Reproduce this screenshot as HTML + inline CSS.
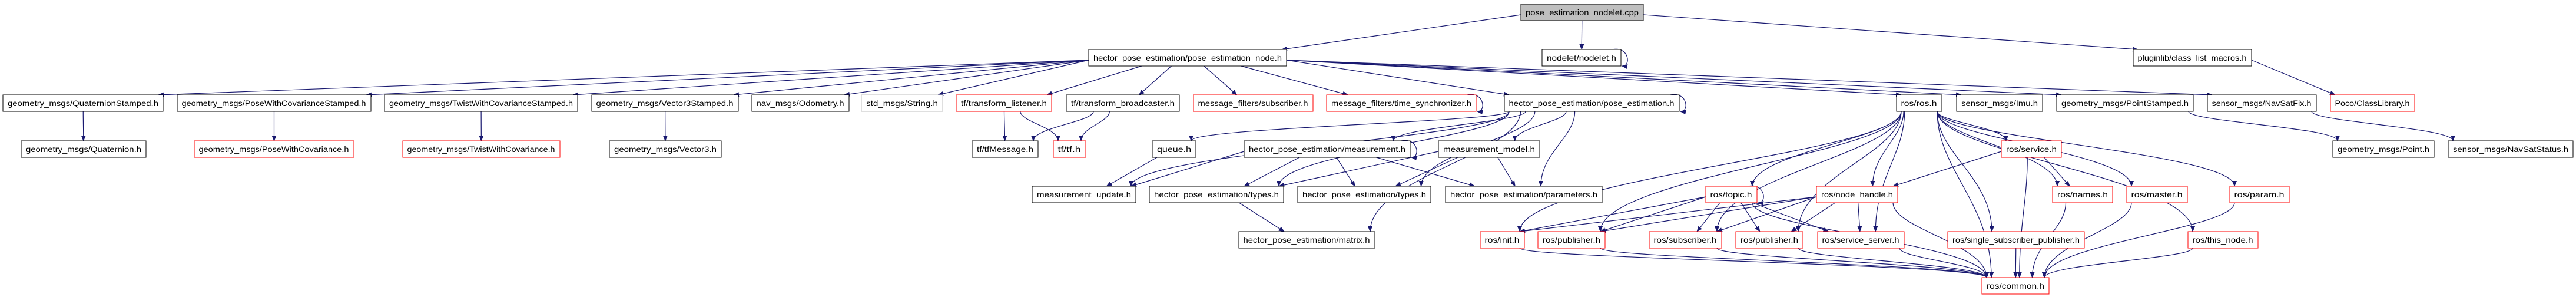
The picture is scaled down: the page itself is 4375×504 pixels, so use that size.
<!DOCTYPE html>
<html><head><meta charset="utf-8"><style>
html,body{margin:0;padding:0;background:#fff;width:4375px;height:504px;overflow:hidden}
svg text{font-family:"Liberation Sans",sans-serif;font-size:14px;fill:#000}
</style></head><body>
<svg id="g" xmlns="http://www.w3.org/2000/svg" width="4375" height="504" viewBox="0 0 4375 504">
<defs><marker id="a" markerWidth="10" markerHeight="8" refX="9" refY="4" orient="auto" markerUnits="userSpaceOnUse"><path d="M0,0 L10,4 L0,8 z" fill="#191970"/></marker></defs>
<g id="edges" fill="none" stroke="#191970" stroke-width="1.2"></g>
<g id="nodes">
<rect x="2583" y="7" width="208" height="28" fill="#bfbfbf" stroke="#000"/><text x="2687" y="26" text-anchor="middle">pose_estimation_nodelet.cpp</text>
<rect x="1849" y="84" width="336" height="28" fill="#fff" stroke="#000"/><text x="2017" y="103" text-anchor="middle">hector_pose_estimation/pose_estimation_node.h</text>
<rect x="2619" y="84" width="134" height="28" fill="#fff" stroke="#000"/><text x="2686" y="103" text-anchor="middle">nodelet/nodelet.h</text>
<rect x="3623" y="84" width="201" height="28" fill="#fff" stroke="#000"/><text x="3723" y="103" text-anchor="middle">pluginlib/class_list_macros.h</text>

<rect x="5" y="161" width="272" height="28" fill="#fff" stroke="#000"/><text x="141" y="180" text-anchor="middle">geometry_msgs/QuaternionStamped.h</text>
<rect x="301" y="161" width="329" height="28" fill="#fff" stroke="#000"/><text x="465" y="180" text-anchor="middle">geometry_msgs/PoseWithCovarianceStamped.h</text>
<rect x="653" y="161" width="328" height="28" fill="#fff" stroke="#000"/><text x="817" y="180" text-anchor="middle">geometry_msgs/TwistWithCovarianceStamped.h</text>
<rect x="1005" y="161" width="249" height="28" fill="#fff" stroke="#000"/><text x="1129" y="180" text-anchor="middle">geometry_msgs/Vector3Stamped.h</text>
<rect x="1277" y="161" width="165" height="28" fill="#fff" stroke="#000"/><text x="1359" y="180" text-anchor="middle">nav_msgs/Odometry.h</text>
<rect x="1463" y="161" width="138" height="28" fill="#fff" stroke="#bfbfbf"/><text x="1532" y="180" text-anchor="middle">std_msgs/String.h</text>
<rect x="1624" y="161" width="162" height="28" fill="#fff" stroke="#f00"/><text x="1705" y="180" text-anchor="middle">tf/transform_listener.h</text>
<rect x="1811" y="161" width="192" height="28" fill="#fff" stroke="#000"/><text x="1907" y="180" text-anchor="middle">tf/transform_broadcaster.h</text>
<rect x="2027" y="161" width="203" height="28" fill="#fff" stroke="#f00"/><text x="2128" y="180" text-anchor="middle">message_filters/subscriber.h</text>
<rect x="2253" y="161" width="254" height="28" fill="#fff" stroke="#f00"/><text x="2380" y="180" text-anchor="middle">message_filters/time_synchronizer.h</text>
<rect x="2555" y="161" width="297" height="28" fill="#fff" stroke="#000"/><text x="2703" y="180" text-anchor="middle">hector_pose_estimation/pose_estimation.h</text>
<rect x="3221" y="161" width="77" height="28" fill="#fff" stroke="#000"/><text x="3259" y="180" text-anchor="middle">ros/ros.h</text>
<rect x="3323" y="161" width="146" height="28" fill="#fff" stroke="#000"/><text x="3396" y="180" text-anchor="middle">sensor_msgs/Imu.h</text>
<rect x="3493" y="161" width="232" height="28" fill="#fff" stroke="#000"/><text x="3609" y="180" text-anchor="middle">geometry_msgs/PointStamped.h</text>
<rect x="3749" y="161" width="185" height="28" fill="#fff" stroke="#000"/><text x="3841" y="180" text-anchor="middle">sensor_msgs/NavSatFix.h</text>
<rect x="3958" y="161" width="143" height="28" fill="#fff" stroke="#f00"/><text x="4029" y="180" text-anchor="middle">Poco/ClassLibrary.h</text>

<rect x="36" y="239" width="212" height="28" fill="#fff" stroke="#000"/><text x="142" y="258" text-anchor="middle">geometry_msgs/Quaternion.h</text>
<rect x="330" y="239" width="271" height="28" fill="#fff" stroke="#f00"/><text x="465" y="258" text-anchor="middle">geometry_msgs/PoseWithCovariance.h</text>
<rect x="684" y="239" width="267" height="28" fill="#fff" stroke="#f00"/><text x="817" y="258" text-anchor="middle">geometry_msgs/TwistWithCovariance.h</text>
<rect x="1035" y="239" width="190" height="28" fill="#fff" stroke="#000"/><text x="1130" y="258" text-anchor="middle">geometry_msgs/Vector3.h</text>
<rect x="1651" y="239" width="112" height="28" fill="#fff" stroke="#000"/><text x="1707" y="258" text-anchor="middle">tf/tfMessage.h</text>
<rect x="1789" y="239" width="55" height="28" fill="#fff" stroke="#f00"/><text x="1816" y="258" text-anchor="middle">tf/tf.h</text>
<rect x="1957" y="239" width="74" height="28" fill="#fff" stroke="#000"/><text x="1994" y="258" text-anchor="middle">queue.h</text>
<rect x="2113" y="239" width="282" height="28" fill="#fff" stroke="#000"/><text x="2254" y="258" text-anchor="middle">hector_pose_estimation/measurement.h</text>
<rect x="2443" y="239" width="172" height="28" fill="#fff" stroke="#000"/><text x="2529" y="258" text-anchor="middle">measurement_model.h</text>
<rect x="3399" y="239" width="102" height="28" fill="#fff" stroke="#f00"/><text x="3450" y="258" text-anchor="middle">ros/service.h</text>
<rect x="3962" y="239" width="172" height="28" fill="#fff" stroke="#000"/><text x="4048" y="258" text-anchor="middle">geometry_msgs/Point.h</text>
<rect x="4158" y="239" width="212" height="28" fill="#fff" stroke="#000"/><text x="4264" y="258" text-anchor="middle">sensor_msgs/NavSatStatus.h</text>

<rect x="1753" y="316" width="176" height="28" fill="#fff" stroke="#000"/><text x="1841" y="335" text-anchor="middle">measurement_update.h</text>
<rect x="1952" y="316" width="228" height="28" fill="#fff" stroke="#000"/><text x="2066" y="335" text-anchor="middle">hector_pose_estimation/types.h</text>
<rect x="2204" y="316" width="226" height="28" fill="#fff" stroke="#000"/><text x="2317" y="335" text-anchor="middle">hector_pose_estimation/types.h</text>
<rect x="2455" y="316" width="266" height="28" fill="#fff" stroke="#000"/><text x="2588" y="335" text-anchor="middle">hector_pose_estimation/parameters.h</text>
<rect x="2897" y="316" width="87" height="28" fill="#fff" stroke="#f00"/><text x="2940" y="335" text-anchor="middle">ros/topic.h</text>
<rect x="3085" y="316" width="138" height="28" fill="#fff" stroke="#f00"/><text x="3154" y="335" text-anchor="middle">ros/node_handle.h</text>
<rect x="3486" y="316" width="102" height="28" fill="#fff" stroke="#f00"/><text x="3537" y="335" text-anchor="middle">ros/names.h</text>
<rect x="3612" y="316" width="103" height="28" fill="#fff" stroke="#f00"/><text x="3663" y="335" text-anchor="middle">ros/master.h</text>
<rect x="3787" y="316" width="101" height="28" fill="#fff" stroke="#f00"/><text x="3837" y="335" text-anchor="middle">ros/param.h</text>

<rect x="2104" y="393" width="231" height="28" fill="#fff" stroke="#000"/><text x="2219" y="412" text-anchor="middle">hector_pose_estimation/matrix.h</text>
<rect x="2514" y="393" width="75" height="28" fill="#fff" stroke="#f00"/><text x="2551" y="412" text-anchor="middle">ros/init.h</text>
<rect x="2612" y="393" width="114" height="28" fill="#fff" stroke="#f00"/><text x="2669" y="412" text-anchor="middle">ros/publisher.h</text>
<rect x="2801" y="393" width="123" height="28" fill="#fff" stroke="#f00"/><text x="2862" y="412" text-anchor="middle">ros/subscriber.h</text>
<rect x="2948" y="393" width="114" height="28" fill="#fff" stroke="#f00"/><text x="3005" y="412" text-anchor="middle">ros/publisher.h</text>
<rect x="3087" y="393" width="147" height="28" fill="#fff" stroke="#f00"/><text x="3160" y="412" text-anchor="middle">ros/service_server.h</text>
<rect x="3308" y="393" width="232" height="28" fill="#fff" stroke="#f00"/><text x="3424" y="412" text-anchor="middle">ros/single_subscriber_publisher.h</text>
<rect x="3716" y="393" width="119" height="28" fill="#fff" stroke="#f00"/><text x="3775" y="412" text-anchor="middle">ros/this_node.h</text>

<rect x="3366" y="471" width="114" height="28" fill="#fff" stroke="#f00"/><text x="3423" y="490" text-anchor="middle">ros/common.h</text>
</g>
</svg>
<script>
var N={cpp:[2583,2791,7],node:[1849,2185,84],nodelet:[2619,2753,84],plug:[3623,3824,84],
qs:[5,277,161],pwcs:[301,630,161],twcs:[653,981,161],v3s:[1005,1254,161],odo:[1277,1442,161],str:[1463,1601,161],tfl:[1624,1786,161],tfb:[1811,2003,161],mfs:[2027,2230,161],ts:[2253,2507,161],pe:[2555,2852,161],ros:[3221,3298,161],imu:[3323,3469,161],ps:[3493,3725,161],nsf:[3749,3934,161],poco:[3958,4101,161],
q:[36,248,239],pwc:[330,601,239],twc:[684,951,239],v3:[1035,1225,239],tfm:[1651,1763,239],tf:[1789,1844,239],queue:[1957,2031,239],meas:[2113,2395,239],mm:[2443,2615,239],srv:[3399,3501,239],pt:[3962,4134,239],nss:[4158,4370,239],
mu:[1753,1929,316],t1:[1952,2180,316],t2:[2204,2430,316],par:[2455,2721,316],topic:[2897,2984,316],nh:[3085,3223,316],names:[3486,3588,316],master:[3612,3715,316],param:[3787,3888,316],
mat:[2104,2335,393],init:[2514,2589,393],pub1:[2612,2726,393],sub:[2801,2924,393],pub2:[2948,3062,393],ss:[3087,3234,393],ssp:[3308,3540,393],tn:[3716,3835,393],common:[3366,3480,471]};
var E=[["cpp","node"],["cpp","nodelet"],["cpp","plug"],
["node","qs"],["node","pwcs"],["node","twcs"],["node","v3s"],["node","odo"],["node","str"],["node","tfl"],["node","tfb"],["node","mfs"],["node","ts"],["node","pe"],["node","ros"],["node","imu"],["node","ps"],["node","nsf"],
["qs","q"],["pwcs","pwc"],["twcs","twc"],["v3s","v3"],["tfl","tfm"],["tfl","tf"],["tfb","tfm"],["tfb","tf"],
["pe","mu"],["pe","queue"],["pe","meas"],["pe","mm"],["pe","t1"],["pe","t2"],["pe","par"],["pe","mat"],
["queue","mu"],["meas","mu"],["meas","t1"],["meas","t2"],["meas","par"],["mm","t1"],["mm","t2"],["mm","par"],["t1","mat"],
["plug","poco"],["ps","pt"],["nsf","nss"],
["ros","init"],["ros","pub1"],["ros","sub"],["ros","pub2"],["ros","ss"],["ros","topic"],["ros","nh"],["ros","srv"],["ros","names"],["ros","master"],["ros","param"],["ros","ssp"],["ros","tn"],["ros","common"],
["topic","init"],["topic","pub1"],["topic","sub"],["topic","pub2"],["topic","ss"],["topic","common"],
["nh","init"],["nh","pub1"],["nh","sub"],["nh","pub2"],["nh","ss"],["nh","common"],
["srv","nh"],["srv","names"],["srv","common"],
["names","common"],["master","common"],["param","common"],["tn","common"],["ssp","common"],["init","common"],["pub1","common"],["sub","common"],["pub2","common"],["ss","common"]];
var g=document.getElementById("edges"),s="";
E.forEach(function(e){var a=N[e[0]],b=N[e[1]];
var tc=(b[0]+b[1])/2,sc=(a[0]+a[1])/2;
var sx=Math.max(a[0]+8,Math.min(a[1]-8,sc+(tc-sc)*0.25));
var sy=a[2]+28,ty=b[2];
if(b[2]==a[2]+77 && Math.abs(tc-sc)>(a[1]-a[0])/2+200){sx=tc<sc?a[0]:a[1];sy=a[2]+18;}
var tx=Math.max(b[0]+8,Math.min(b[1]-8,tc+(sc-tc)*0.25));
var dy=ty-sy;
if(b[2]==a[2]+77){s+='<path d="M'+sx+','+sy+' L'+tx+','+ty+'" marker-end="url(#a)"/>';}
else s+='<path d="M'+sx+','+sy+' C'+sx+','+(sy+dy*0.35)+' '+tx+','+(ty-dy*0.45)+' '+tx+','+ty+'" marker-end="url(#a)"/>';});
[["nodelet"],["ts"],["pe"],["meas"],["topic"]].forEach(function(k){var a=N[k[0]];var x=a[1]-15,y=a[2];
s+='<path d="M'+x+','+y+' C'+(x+30)+','+(y-6)+' '+(x+32)+','+(y+30)+' '+(a[1]+2)+','+(y+28)+'" marker-end="url(#a)"/>';});
g.innerHTML=s;
var R=document.querySelectorAll("#nodes rect"),T=document.querySelectorAll("#nodes text");
for(var i=0;i<T.length;i++){var w=+R[i].getAttribute("width");T[i].setAttribute("textLength",w-16);T[i].setAttribute("lengthAdjust","spacingAndGlyphs");}
</script>
</body></html>
